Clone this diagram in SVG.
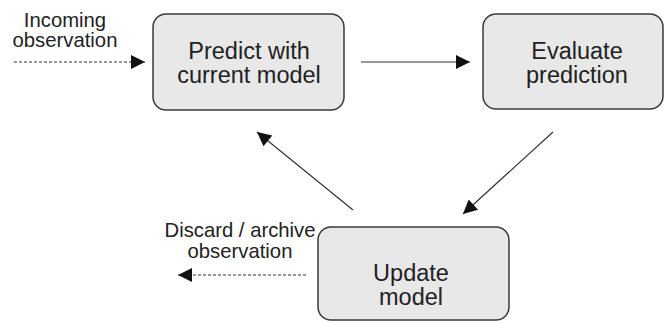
<svg xmlns="http://www.w3.org/2000/svg" width="665" height="321" viewBox="0 0 665 321">
<defs>
<style>
.box{fill:#e8e8e8;stroke:#3a3a3a;stroke-width:1.5}
.t{font-family:"Liberation Sans",Arial,sans-serif;font-size:23.5px;fill:#222;text-anchor:middle}
.s{font-family:"Liberation Sans",Arial,sans-serif;font-size:20.3px;fill:#222;text-anchor:middle}
.ln{stroke:#333;stroke-width:1.2;fill:none}
.dash{stroke-dasharray:3,2}
</style>
<marker id="ah" viewBox="0 0 10 10" refX="10" refY="5" markerWidth="23" markerHeight="14" markerUnits="userSpaceOnUse" orient="auto">
<path d="M0,0 L10,5 L0,10 z" fill="#111"/>
</marker>
</defs>
<rect width="665" height="321" fill="#fff"/>
<g id="connectors">
<line class="ln dash" x1="14" y1="62" x2="145" y2="62" marker-end="url(#ah)"/>
<line class="ln" x1="361" y1="62" x2="470" y2="62" marker-end="url(#ah)"/>
<line class="ln" x1="553" y1="132" x2="463" y2="214" marker-end="url(#ah)"/>
<line class="ln" x1="353" y1="210" x2="257" y2="132" marker-end="url(#ah)"/>
<line class="ln dash" x1="306" y1="275" x2="178" y2="275" marker-end="url(#ah)"/>
</g>
<g id="label-incoming">
<text class="s" x="65" y="27">Incoming</text>
<text class="s" x="65" y="47">observation</text>
</g>
<g id="node-predict">
<rect class="box" x="153" y="14" width="191" height="96" rx="13"/>
<text class="t" x="249" y="59">Predict with</text>
<text class="t" x="249" y="83">current model</text>
</g>
<g id="node-evaluate">
<rect class="box" x="483" y="14" width="180" height="95" rx="13"/>
<text class="t" x="577" y="59">Evaluate</text>
<text class="t" x="577" y="83">prediction</text>
</g>
<g id="node-update">
<rect class="box" x="318" y="227" width="191" height="93" rx="13"/>
<text class="t" x="411" y="281">Update</text>
<text class="t" x="411" y="305">model</text>
</g>
<g id="label-discard">
<text class="s" x="240" y="237">Discard / archive</text>
<text class="s" x="240" y="258">observation</text>
</g>
</svg>
